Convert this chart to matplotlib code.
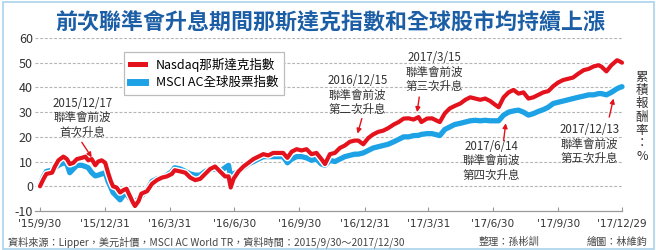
import matplotlib
matplotlib.use("Agg")
import matplotlib.pyplot as plt
import matplotlib.dates as mdates
import matplotlib.patheffects as pe
from matplotlib.patches import Rectangle
from matplotlib.lines import Line2D
import pandas as pd

plt.rcParams['font.family'] = ['Noto Sans CJK TC', 'DejaVu Sans']
plt.rcParams['axes.unicode_minus'] = False

title = "前次聯準會升息期間那斯達克指數和全球股市均持續上漲"
series_names = ["Nasdaq那斯達克指數", "MSCI AC全球股票指數"]

dates = [
    "2015-09-30", "2015-10-05", "2015-10-09", "2015-10-17", "2015-10-21", "2015-10-26",
    "2015-11-02", "2015-11-07", "2015-11-11", "2015-11-16", "2015-11-21", "2015-11-28",
    "2015-12-03", "2015-12-07", "2015-12-12", "2015-12-17", "2015-12-21", "2015-12-26",
    "2015-12-31", "2016-01-04", "2016-01-08", "2016-01-11", "2016-01-16", "2016-01-21",
    "2016-01-26", "2016-01-30", "2016-02-04", "2016-02-08", "2016-02-11", "2016-02-16",
    "2016-02-20", "2016-02-28", "2016-03-06", "2016-03-13", "2016-03-20", "2016-03-27",
    "2016-04-03", "2016-04-07", "2016-04-15", "2016-04-22", "2016-04-29", "2016-05-06",
    "2016-05-13", "2016-05-20", "2016-05-27", "2016-06-03", "2016-06-10", "2016-06-17",
    "2016-06-22", "2016-06-25", "2016-06-29", "2016-07-06", "2016-07-13", "2016-07-20",
    "2016-07-27", "2016-08-03", "2016-08-10", "2016-08-17", "2016-08-24", "2016-08-31",
    "2016-09-07", "2016-09-13", "2016-09-19", "2016-09-26", "2016-10-03", "2016-10-10",
    "2016-10-17", "2016-10-24", "2016-10-31", "2016-11-05", "2016-11-12", "2016-11-19",
    "2016-11-26", "2016-12-03", "2016-12-10", "2016-12-17", "2016-12-22", "2016-12-29",
    "2017-01-05", "2017-01-12", "2017-01-19", "2017-01-26", "2017-02-02", "2017-02-10",
    "2017-02-17", "2017-02-24", "2017-03-03", "2017-03-10", "2017-03-17", "2017-03-21",
    "2017-03-29", "2017-04-05", "2017-04-12", "2017-04-16", "2017-04-23", "2017-04-30",
    "2017-05-07", "2017-05-15", "2017-05-22", "2017-05-29", "2017-06-05", "2017-06-12",
    "2017-06-19", "2017-06-26", "2017-07-03", "2017-07-08", "2017-07-15", "2017-07-22",
    "2017-07-29", "2017-08-05", "2017-08-12", "2017-08-19", "2017-08-26", "2017-09-02",
    "2017-09-09", "2017-09-16", "2017-09-23", "2017-09-30", "2017-10-07", "2017-10-14",
    "2017-10-21", "2017-10-28", "2017-11-05", "2017-11-12", "2017-11-19", "2017-11-26",
    "2017-11-30", "2017-12-07", "2017-12-14", "2017-12-22", "2017-12-26", "2017-12-29",
]

nasdaq = [
    0, 3, 5, 5.5, 8, 10.5,
    12, 11, 9, 9.5, 11, 11.5,
    12, 10.5, 11, 8.5, 10, 10.5,
    9.5, 5.5, 2, 0, -0.5, -2.5,
    -1.5, -1, -4, -6.5, -8, -6,
    -3, -2, 1, 2.5, 3.5, 4,
    5, 6.5, 6, 5.5, 3.5, 2.5,
    3, 5, 7, 8, 6, 4,
    4, -0.5, 3, 6, 8, 9.5,
    11, 12, 13, 12.5, 13.5, 13.5,
    13.5, 11.5, 14, 15, 14.5, 15,
    13, 13.5, 11, 9, 13, 13.5,
    15.5, 16.5, 18, 18.5, 18.5, 17,
    19.5, 21, 22, 22.5, 23.5, 25,
    26, 27.4, 27.5, 27, 28, 26,
    27.4, 27.5, 26.5, 26, 29.5, 31.5,
    32.5, 33.5, 35, 36, 35.5, 35,
    35.5, 34.5, 33, 32, 36, 38,
    39, 37.5, 38, 35.5, 36, 37,
    38, 38.5, 40.5, 42, 43, 43.5,
    44, 45.5, 47, 47.5, 48.5, 49,
    48.4, 46.5, 49, 51, 50.5, 50,
]

msci = [
    0.5, 4, 6, 6.5, 7.5, 8.5,
    9.5, 9, 5.5, 7, 8.5, 8.5,
    8, 7.5, 5.5, 4.2, 4.5, 5,
    5.5, 2, -0.5, -2.5, -4, -5.5,
    -3.5, -3, -5, -6, -6.5, -5,
    -4, -1.5, 2, 3, 3.5, 4.5,
    6, 7.5, 7, 6, 5, 4.5,
    4.5, 6, 7, 7, 6, 7.5,
    8.5, 3.5, 5, 6, 7.5, 9,
    10, 11, 12, 12, 12, 12,
    12, 9.5, 11, 12, 12, 11.5,
    10.5, 11, 9, 8.5, 10.5, 10,
    11, 12, 12.5, 13, 13, 13.5,
    14.5, 15.5, 16, 16.5, 17, 18,
    19, 20, 20, 20.5, 20.6, 21,
    21.3, 21.3, 20.8, 20.5, 23, 24,
    25, 25.5, 26, 26.5, 26.7, 26.5,
    26.7, 26.5, 26.5, 26.5, 28.8, 30,
    30.5, 30.8, 30, 28.8, 29.4, 30.3,
    31, 32, 33.5, 34, 34.5, 35,
    35.5, 36, 36.5, 37, 37, 37.5,
    37.5, 37, 38, 39.5, 40, 40.3,
]

tick_dates = ["2015-09-30", "2015-12-31", "2016-03-31", "2016-06-30", "2016-09-30",
              "2016-12-31", "2017-03-31", "2017-06-30", "2017-09-30", "2017-12-29"]
tick_labels = ["'15/9/30", "'15/12/31", "'16/3/31", "'16/6/30", "'16/9/30",
               "'16/12/31", "'17/3/31", "'17/6/30", "'17/9/30", "'17/12/29"]
y_ticks = [-10, 0, 10, 20, 30, 40, 50, 60]

notes = [
    "2015/12/17\n聯準會前波\n首次升息",
    "2016/12/15\n聯準會前波\n第二次升息",
    "2017/3/15\n聯準會前波\n第三次升息",
    "2017/6/14\n聯準會前波\n第四次升息",
    "2017/12/13\n聯準會前波\n第五次升息",
]
note_text_pos = [("2015-11-29", 27.8), ("2016-12-21", 36.8), ("2017-04-08", 46.3),
                 ("2017-06-28", 10.3), ("2017-11-13", 17.1)]
note_arrow_tail = [("2015-11-28", 17.8), ("2016-12-27", 27.4), ("2017-03-18", 36.1),
                   ("2017-07-15", 18.5), ("2017-12-11", 28.0)]
note_arrow_head = [("2015-12-12", 11.7), ("2016-12-21", 21.3), ("2017-03-15", 30.0),
                   ("2017-07-18", 25.5), ("2017-12-17", 35.5)]

RED = "#e3121c"
BLUE = "#1ea2e6"
W, H = 656, 250

fig = plt.figure(figsize=(W / 100, H / 100), dpi=100)
fig.patch.set_facecolor("white")
ax = fig.add_axes([35 / W, (H - 211) / H, (622 - 35) / W, (211 - 38) / H])

d = pd.to_datetime(dates)
ax.plot(d, msci, color=BLUE, lw=3.8, solid_joinstyle="round", solid_capstyle="round",
        clip_on=False, zorder=3,
        path_effects=[pe.Stroke(linewidth=6.0, foreground="white"), pe.Normal()])
ax.plot(d, nasdaq, color=RED, lw=3.0, solid_joinstyle="round", solid_capstyle="round",
        clip_on=False, zorder=4,
        path_effects=[pe.Stroke(linewidth=5.0, foreground="white"), pe.Normal()])

x0 = mdates.date2num(pd.Timestamp(dates[0])) - 7.05
x1 = mdates.date2num(pd.Timestamp(tick_dates[-1]))
ax.set_xlim(x0, x1)
ax.set_ylim(-10, 60)

for v in y_ticks[1:]:
    ax.axhline(v, color="#b5b5b5", lw=0.8, dashes=(2.6, 1.6), zorder=1)

for s in ["top", "right", "left"]:
    ax.spines[s].set_visible(False)
ax.spines["bottom"].set_color("#9a9a9a")
ax.spines["bottom"].set_linewidth(0.9)

ax.set_yticks(y_ticks)
ax.set_yticklabels([str(v) for v in y_ticks])
ax.tick_params(axis="y", length=0, pad=1.5, labelsize=9, labelcolor="#333333")
ax.set_xticks(pd.to_datetime(tick_dates))
ax.set_xticklabels(tick_labels)
ax.tick_params(axis="x", direction="in", length=3, width=0.8, color="#9a9a9a", pad=6,
               labelsize=7.6, labelcolor="#333333")
for lab in ax.get_xticklabels():
    lab.set_family(["Liberation Sans Narrow", "DejaVu Sans"])

for txt, tp, tt, th in zip(notes, note_text_pos, note_arrow_tail, note_arrow_head):
    ax.text(pd.Timestamp(tp[0]), tp[1], txt, ha="center", va="center", fontsize=8.3,
            color="#333333", linespacing=1.15, zorder=6)
    ax.annotate("", xy=(pd.Timestamp(th[0]), th[1]), xytext=(pd.Timestamp(tt[0]), tt[1]),
                arrowprops=dict(arrowstyle="-|>", color=RED, lw=1.0, mutation_scale=7,
                                shrinkA=0, shrinkB=0), zorder=6)

handles = [Line2D([], [], color=RED, lw=3.6), Line2D([], [], color=BLUE, lw=5.0)]
leg = ax.legend(handles, series_names, loc="upper left",
                bbox_to_anchor=((124 - 35) / (622 - 35), (211 - 52) / (211 - 38)),
                borderaxespad=0, fancybox=False, framealpha=1, edgecolor="#bdbdbd",
                fontsize=9, handlelength=1.2, handletextpad=0.9, labelspacing=0.35,
                borderpad=0.45)
leg.get_frame().set_linewidth(0.9)
leg.set_zorder(7)

fig.text(330 / W, 1 - 22 / H, title, ha="center", va="center", fontsize=15.8,
         fontweight="bold", color="#1b5ea6")
fig.text(642 / W, 1 - 117 / H, "累\n積\n報\n酬\n率\n：\n%", ha="center", va="center",
         fontsize=9.0, linespacing=1.02, color="#333333")
fig.text(8 / W, 1 - 242 / H,
         "資料來源：Lipper，美元計價，MSCI AC World TR，資料時間：2015/9/30～2017/12/30",
         ha="left", va="center", fontsize=7.3, color="#444444")
fig.text(479 / W, 1 - 242 / H, "整理：孫彬訓", ha="left", va="center", fontsize=7.3,
         color="#444444")
fig.text(647 / W, 1 - 242 / H, "繪圖：林維鈞", ha="right", va="center", fontsize=7.3,
         color="#444444")

fig.patches.append(Rectangle((2.5 / W, 1.5 / H), (W - 5) / W, (H - 3) / H,
                             transform=fig.transFigure, fill=False,
                             edgecolor="#a9d3ec", lw=1.2))

fig.savefig("out.png", dpi=100)
